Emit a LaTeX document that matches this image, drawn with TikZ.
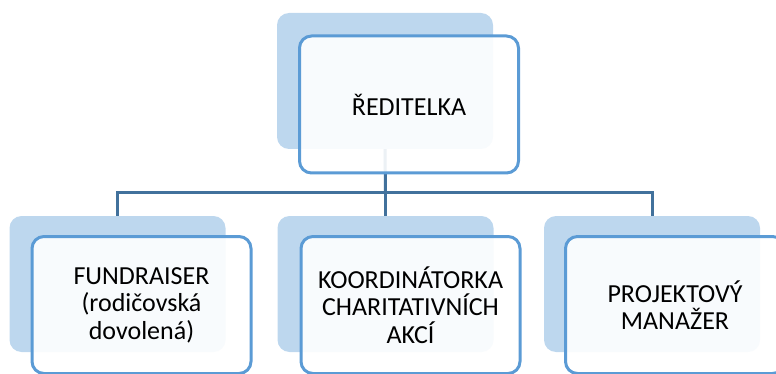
\documentclass[tikz,border=0pt]{standalone}
\usepackage{fontspec}
\setmainfont{Carlito}
\definecolor{backfill}{HTML}{BDD7EE}
\definecolor{frontline}{HTML}{5B9BD5}
\definecolor{connline}{HTML}{41719C}
\tikzset{
  backbox/.style={draw=none, fill=backfill, rounded corners=12pt,
    minimum width=216pt, minimum height=136pt, inner sep=0pt},
  frontbox/.style={draw=frontline, line width=3pt, fill=white, fill opacity=0.9,
    text opacity=1, rounded corners=12pt, minimum width=219pt, minimum height=137pt,
    inner sep=0pt, align=center, font=\fontsize{26pt}{27.5pt}\selectfont},
  conn/.style={draw=connline, line width=3pt}
}
\begin{document}
\begin{tikzpicture}[x=1pt,y=-1pt]
\useasboundingbox (0,0) rectangle (776,374);
\clip (0,0) rectangle (776,374);
% back boxes
\node[backbox] (tb) at (385,81) {};
\node[backbox] (lb) at (117.5,284) {};
\node[backbox] (mb) at (385.5,284) {};
\node[backbox] (rb) at (652,284) {};
% connectors
\coordinate (bus) at (385.5,193);
\draw[conn] (tb.south) -- (bus);
\draw[conn] (lb.north) |- (bus) -| (rb.north);
\draw[conn] (bus) -- (mb.north);
% front boxes
\node[frontbox] (tf) at (409,104.5) {ŘEDITELKA};
\node[frontbox] (lf) at (141.5,305) {FUNDRAISER\\(rodičovská\\dovolená)};
\node[frontbox] (mf) at (410.5,305) {KOORDINÁTORKA\\CHARITATIVNÍCH\\AKCÍ};
\node[frontbox] (rf) at (675,305) {PROJEKTOVÝ\\MANAŽER};
\end{tikzpicture}
\end{document}
